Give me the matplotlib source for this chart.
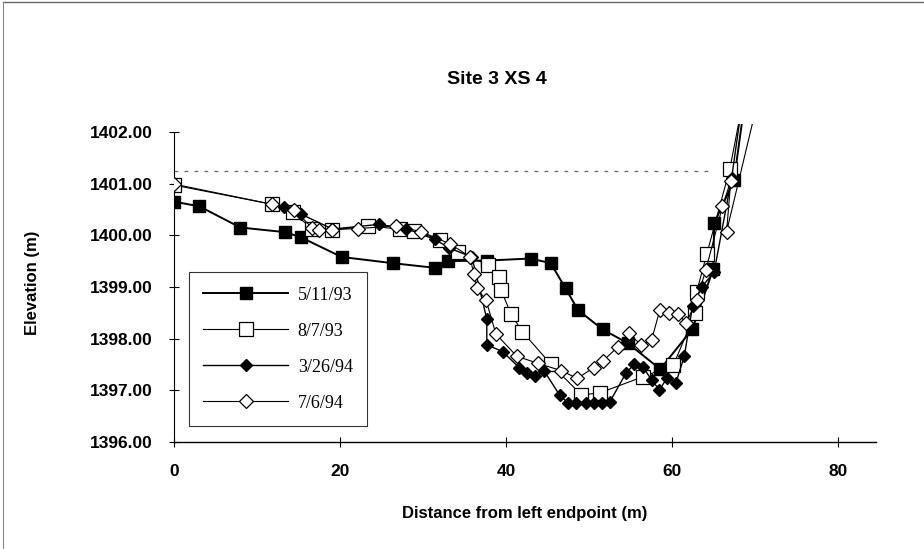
import matplotlib
matplotlib.use("Agg")
import matplotlib.pyplot as plt
from matplotlib.lines import Line2D

# Cross-section survey, Site 3 XS 4
labels = ["5/11/93", "8/7/93", "3/26/94", "7/6/94"]

dist_5_11_93 = [0, 3.05, 8.0, 13.4, 15.3, 20.2, 26.35, 31.45, 33.05, 37.7, 42.97, 45.4,
                47.2, 48.7, 51.65, 54.7, 58.6, 62.45, 65.0, 65.1, 67.5, 70.0]
elev_5_11_93 = [1400.65, 1400.56, 1400.15, 1400.06, 1399.96, 1399.58, 1399.46, 1399.37,
                1399.50, 1399.51, 1399.55, 1399.46, 1398.97, 1398.55, 1398.18, 1397.91,
                1397.41, 1398.18, 1399.35, 1400.23, 1401.07, 1404.0]

dist_8_7_93 = [0, 11.8, 14.3, 16.6, 19.1, 23.4, 27.2, 28.9, 32.0, 34.25, 37.9, 39.2, 39.4,
               40.6, 42.0, 45.4, 49.1, 51.3, 56.5, 60.2, 62.8, 63.0, 64.2, 67.0, 70.5]
elev_8_7_93 = [1400.97, 1400.60, 1400.45, 1400.13, 1400.10, 1400.18, 1400.12, 1400.09,
               1399.91, 1399.68, 1399.42, 1399.19, 1398.95, 1398.48, 1398.13, 1397.51,
               1396.91, 1396.95, 1397.26, 1397.49, 1398.49, 1398.91, 1399.63, 1401.29, 1404.2]

dist_3_26_94 = [13.25, 15.3, 19.1, 24.7, 27.95, 31.45, 33.2, 35.9, 37.7, 37.7, 39.6, 41.6,
                42.6, 43.5, 44.6, 46.5, 47.5, 48.5, 49.6, 50.6, 51.6, 52.5, 54.5, 55.5,
                56.5, 57.55, 58.5, 59.4, 60.5, 61.5, 62.5, 63.6, 65.1, 67.2, 70.0]
elev_3_26_94 = [1400.55, 1400.41, 1400.12, 1400.21, 1400.13, 1399.92, 1399.75, 1399.58,
                1398.38, 1397.88, 1397.75, 1397.44, 1397.33, 1397.28, 1397.38, 1396.90,
                1396.76, 1396.76, 1396.75, 1396.76, 1396.75, 1396.77, 1397.34, 1397.51,
                1397.46, 1397.20, 1397.01, 1397.23, 1397.15, 1397.66, 1398.63, 1399.00,
                1399.29, 1401.10, 1404.3]

dist_7_6_94 = [0, 11.8, 14.5, 16.6, 17.5, 19.1, 22.2, 26.7, 29.8, 33.3, 35.7, 36.1, 36.5,
               37.6, 38.8, 41.3, 43.9, 46.7, 48.6, 50.6, 51.7, 53.5, 54.8, 56.3, 57.55,
               58.55, 59.7, 60.8, 61.75, 63.0, 64.1, 66.1, 67.1, 66.6, 72.0]
elev_7_6_94 = [1400.99, 1400.60, 1400.49, 1400.15, 1400.10, 1400.11, 1400.13, 1400.18,
               1400.07, 1399.83, 1399.58, 1399.26, 1398.97, 1398.75, 1398.09, 1397.66,
               1397.52, 1397.38, 1397.23, 1397.44, 1397.57, 1397.84, 1398.10, 1397.88,
               1397.97, 1398.55, 1398.49, 1398.47, 1398.30, 1398.75, 1399.33, 1400.56,
               1401.05, 1400.07, 1403.7]

bankfull = 1401.24
bankfull_end = 64.3

xticks = [0, 20, 40, 60, 80]
yticks = [1396, 1397, 1398, 1399, 1400, 1401, 1402]

plt.rcParams['font.family'] = ['Liberation Sans', 'DejaVu Sans']

fig = plt.figure(figsize=(9.24, 5.49), dpi=100)
ax = fig.add_axes([0.1883, 0.1949, 0.7597, 0.579])

ax.plot(dist_5_11_93, elev_5_11_93, color='black', lw=1.4, marker='s', ms=9,
        mfc='black', mec='black', label=labels[0], zorder=3)
ax.plot(dist_8_7_93, elev_8_7_93, color='black', lw=0.8, marker='s', ms=9.5,
        mfc='white', mec='black', mew=0.9, label=labels[1], zorder=4)
ax.plot(dist_3_26_94, elev_3_26_94, color='black', lw=1.0, marker='D', ms=6,
        mfc='black', mec='black', label=labels[2], zorder=5)
ax.plot(dist_7_6_94, elev_7_6_94, color='black', lw=0.8, marker='D', ms=7,
        mfc='white', mec='black', mew=0.9, label=labels[3], zorder=6)

# dotted bankfull line
ax.plot([0, bankfull_end], [bankfull, bankfull], color='#666666', lw=0.9,
        ls=(0, (3, 5)), zorder=2)

ax.set_xlim(0, 84.6)
ax.set_ylim(1396, 1402.15)
ax.set_xticks(xticks)
ax.set_yticks(yticks)
ax.set_xticklabels([str(t) for t in xticks])
ax.set_yticklabels([f"{t:.2f}" for t in yticks])

for s in ['top', 'right']:
    ax.spines[s].set_visible(False)
ax.spines['left'].set_bounds(1396, 1402)
ax.spines['left'].set_linewidth(0.8)
ax.spines['bottom'].set_linewidth(1.0)
ax.tick_params(direction='inout', length=7, width=0.8, pad=12, labelsize=12.5)
for lab in ax.get_xticklabels() + ax.get_yticklabels():
    lab.set_fontweight('bold')

ax.set_xlabel('Distance from left endpoint (m)', fontsize=12, fontweight='bold', labelpad=20)
ax.set_ylabel('Elevation (m)', fontsize=12, fontweight='bold', labelpad=36)
fig.text(0.538, 0.855, 'Site 3 XS 4', ha='center', va='center', fontsize=14,
         fontweight='bold', family=['Liberation Sans Narrow', 'Liberation Sans'])

leg = ax.legend(loc='lower left', bbox_to_anchor=(0.008, 0.022), frameon=True,
                fancybox=False, edgecolor='black', handlelength=4.7,
                handletextpad=0.55, labelspacing=1.05, borderpad=0.8,
                prop={'family': 'Liberation Serif', 'size': 13})
leg.get_frame().set_linewidth(0.8)

# outer page border
fig.add_artist(Line2D([0.003, 1], [0.997, 0.997], transform=fig.transFigure,
                      color='#666666', lw=1.0))
fig.add_artist(Line2D([0.003, 0.003], [0, 0.997], transform=fig.transFigure,
                      color='#888888', lw=0.8))

fig.savefig('out.png', dpi=100)
